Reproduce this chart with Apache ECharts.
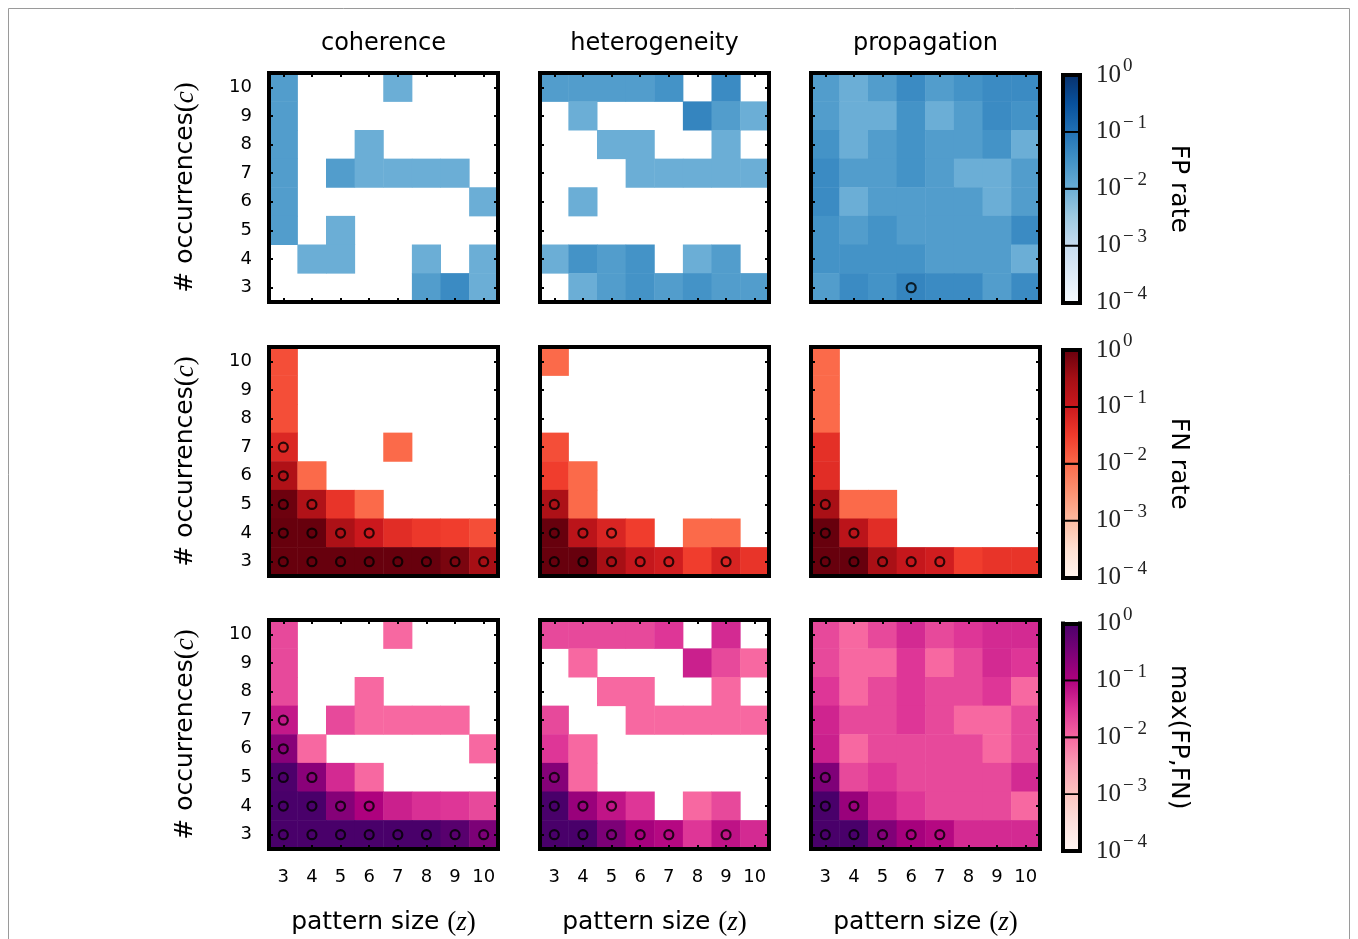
<!DOCTYPE html>
<html><head><meta charset="utf-8">
<script src="https://cdn.jsdelivr.net/npm/echarts@6/dist/echarts.min.js"></script>
<style>html,body{margin:0;padding:0;background:#fff}#c{width:1358px;height:939px}</style>
</head><body><div id="c"></div><script>
// ---------------- data ----------------
const zLabels = ['3','4','5','6','7','8','9','10'];   // pattern size (x)
const cLabels = ['3','4','5','6','7','8','9','10'];   // occurrences (y, bottom -> top)
const colTitles = ['coherence','heterogeneity','propagation'];
const rowNames = ['FP rate','FN rate','max(FP,FN)'];
const cbTickExps = [-4,-3,-2,-1,0];
const decadeStarts = [-4,-3,-2,-1];
const _ = null;
// grids: rows are c = 10 (top) ... 3 (bottom); columns z = 3 ... 10; null = white (zero)
const fpCoherence = [
 [0.02,_,_,_,0.01,_,_,_],
 [0.02,_,_,_,_,_,_,_],
 [0.02,_,_,0.01,_,_,_,_],
 [0.02,_,0.02,0.01,0.01,0.01,0.01,_],
 [0.02,_,_,_,_,_,_,0.01],
 [0.02,_,0.01,_,_,_,_,_],
 [_,0.01,0.01,_,_,0.01,_,0.01],
 [_,_,_,_,_,0.02,0.04,0.01]];
const fpHeterogeneity = [
 [0.02,0.02,0.02,0.02,0.03,_,0.04,_],
 [_,0.01,_,_,_,0.05,0.02,0.01],
 [_,_,0.01,0.01,_,_,0.01,_],
 [_,_,_,0.01,0.01,0.01,0.01,0.01],
 [_,0.01,_,_,_,_,_,_],
 [_,_,_,_,_,_,_,_],
 [0.01,0.03,0.02,0.03,_,0.01,0.02,_],
 [_,0.01,0.02,0.03,0.02,0.03,0.02,0.02]];
const fpPropagation = [
 [0.02,0.01,0.02,0.04,0.02,0.03,0.04,0.04],
 [0.02,0.01,0.01,0.03,0.01,0.02,0.04,0.03],
 [0.03,0.01,0.02,0.03,0.02,0.02,0.03,0.01],
 [0.04,0.02,0.02,0.03,0.02,0.01,0.01,0.02],
 [0.04,0.01,0.02,0.02,0.02,0.02,0.01,0.02],
 [0.03,0.02,0.03,0.02,0.02,0.02,0.02,0.04],
 [0.03,0.03,0.03,0.03,0.02,0.02,0.02,0.01],
 [0.02,0.04,0.03,0.05,0.04,0.04,0.02,0.04]];
const fnCoherence = [
 [0.02,_,_,_,_,_,_,_],
 [0.02,_,_,_,_,_,_,_],
 [0.02,_,_,_,_,_,_,_],
 [0.06,_,_,_,0.01,_,_,_],
 [0.23,0.01,_,_,_,_,_,_],
 [0.9,0.22,0.04,0.01,_,_,_,_],
 [1,1,0.25,0.1,0.05,0.035,0.03,0.02],
 [1,1,1,1,1,1,0.7,0.3]];
const fnHeterogeneity = [
 [0.01,_,_,_,_,_,_,_],
 [_,_,_,_,_,_,_,_],
 [_,_,_,_,_,_,_,_],
 [0.02,_,_,_,_,_,_,_],
 [0.03,0.01,_,_,_,_,_,_],
 [0.25,0.01,_,_,_,_,_,_],
 [1,0.16,0.065,0.03,_,0.01,0.01,_],
 [1,1,0.3,0.12,0.085,0.03,0.068,0.04]];
const fnPropagation = [
 [0.01,_,_,_,_,_,_,_],
 [0.01,_,_,_,_,_,_,_],
 [0.01,_,_,_,_,_,_,_],
 [0.045,_,_,_,_,_,_,_],
 [0.05,_,_,_,_,_,_,_],
 [0.28,0.01,0.01,_,_,_,_,_],
 [1,0.16,0.05,_,_,_,_,_],
 [1,1,0.27,0.12,0.085,0.03,0.04,0.04]];
const maxCoherence = [
 [0.02,_,_,_,0.01,_,_,_],
 [0.02,_,_,_,_,_,_,_],
 [0.02,_,_,0.01,_,_,_,_],
 [0.06,_,0.02,0.01,0.01,0.01,0.01,_],
 [0.23,0.01,_,_,_,_,_,0.01],
 [0.9,0.22,0.04,0.01,_,_,_,_],
 [1,1,0.25,0.1,0.05,0.035,0.03,0.02],
 [1,1,1,1,1,1,0.7,0.3]];
const maxHeterogeneity = [
 [0.02,0.02,0.02,0.02,0.03,_,0.04,_],
 [_,0.01,_,_,_,0.05,0.02,0.01],
 [_,_,0.01,0.01,_,_,0.01,_],
 [0.02,_,_,0.01,0.01,0.01,0.01,0.01],
 [0.03,0.01,_,_,_,_,_,_],
 [0.25,0.01,_,_,_,_,_,_],
 [1,0.16,0.065,0.03,_,0.01,0.02,_],
 [1,1,0.3,0.12,0.085,0.03,0.068,0.04]];
const maxPropagation = [
 [0.02,0.01,0.02,0.04,0.02,0.03,0.04,0.04],
 [0.02,0.01,0.01,0.03,0.01,0.02,0.04,0.03],
 [0.03,0.01,0.02,0.03,0.02,0.02,0.03,0.01],
 [0.045,0.02,0.02,0.03,0.02,0.01,0.01,0.02],
 [0.05,0.01,0.02,0.02,0.02,0.02,0.01,0.02],
 [0.28,0.02,0.03,0.02,0.02,0.02,0.02,0.04],
 [1,0.16,0.05,0.03,0.02,0.02,0.02,0.01],
 [1,1,0.27,0.12,0.085,0.04,0.04,0.04]];
// circle markers as [z, c]
const circFpCoherence = [];
const circFpHeterogeneity = [];
const circFpPropagation = [[6,3]];
const circFnCoherence = [[3,7],[3,6],[3,5],[4,5],[3,4],[4,4],[5,4],[6,4],[3,3],[4,3],[5,3],[6,3],[7,3],[8,3],[9,3],[10,3]];
const circFnHeterogeneity = [[3,5],[3,4],[4,4],[5,4],[3,3],[4,3],[5,3],[6,3],[7,3],[9,3]];
const circFnPropagation = [[3,5],[3,4],[4,4],[3,3],[4,3],[5,3],[6,3],[7,3]];
const circMaxCoherence = circFnCoherence.slice();
const circMaxHeterogeneity = circFnHeterogeneity.slice();
const circMaxPropagation = circFnPropagation.slice();

// ---------------- styling ----------------
const cmaps = [
 ['#f7fbff','#deebf7','#c6dbef','#9ecae1','#6baed6','#4292c6','#2171b5','#08519c','#08306b'],
 ['#fff5f0','#fee0d2','#fcbba1','#fc9272','#fb6a4a','#ef3b2c','#cb181d','#a50f15','#67000d'],
 ['#fff7f3','#fde0dd','#fcc5c0','#fa9fb5','#f768a1','#dd3497','#ae017e','#7a0177','#49006a']];
const panels = [
 [fpCoherence, fpHeterogeneity, fpPropagation],
 [fnCoherence, fnHeterogeneity, fnPropagation],
 [maxCoherence, maxHeterogeneity, maxPropagation]];
const circles = [
 [circFpCoherence, circFpHeterogeneity, circFpPropagation],
 [circFnCoherence, circFnHeterogeneity, circFnPropagation],
 [circMaxCoherence, circMaxHeterogeneity, circMaxPropagation]];

const L = [269, 540, 811], T = [73, 347, 620], S = 229;
const cbL = 1063, cbW = 17, cbT = [75, 350, 623.5], cbH = 227.5;
const SANS = 'DejaVu Sans', SERIF = 'Liberation Serif';
const lineCommon = {show:true, onZero:false, lineStyle:{color:'#000', width:4, cap:'square'}};
const nameRich = {
  s:{fontFamily:SANS, fontSize:25, color:'#000'},
  r:{fontFamily:SERIF, fontSize:27, color:'#000'},
  i:{fontFamily:SERIF, fontStyle:'italic', fontSize:27, color:'#000'}};

const grid = [], xAxis = [], yAxis = [], series = [], title = [];
const vmSeries = [[],[],[]];

function cells(g){
  const out=[]; const n=g.length;
  g.forEach((row,i)=>row.forEach((v,j)=>{ if(v!=null) out.push([j, n-1-i, Math.log10(v)]); }));
  return out;
}

for (let r=0;r<3;r++){
  for (let k=0;k<3;k++){
    const g = r*3+k;
    grid.push({left:L[k], top:T[r], width:S, height:S, containLabel:false});
    const xTick = {show: r!==1, inside:true, length:4, alignWithLabel:true, interval:0, lineStyle:{color:'#000', width:2}};
    const yTick = {show: true, inside:true, length:4, alignWithLabel:true, interval:0, lineStyle:{color:'#000', width:2}};
    const xb = {type:'category', gridIndex:g, data:zLabels, position:'bottom', z:6,
      axisLine:lineCommon, axisTick:xTick, splitLine:{show:false},
      axisLabel:{show:r===2, interval:0, color:'#000', fontSize:18, fontFamily:SANS, margin:19}};
    if (r===2){
      Object.assign(xb, {name:'{s|pattern size }{r|(}{i|z}{r|)}', nameLocation:'middle', nameGap:60,
        nameTextStyle:{rich:nameRich}});
    }
    xAxis.push(xb);
    xAxis.push({type:'category', gridIndex:g, data:zLabels, position:'top', z:6,
      axisLine:lineCommon, axisTick:xTick, axisLabel:{show:false}, splitLine:{show:false}});
    const yl = {type:'category', gridIndex:g, data:cLabels, position:'left', z:6,
      axisLine:lineCommon, axisTick:yTick, splitLine:{show:false},
      axisLabel:{show:k===0, interval:0, color:'#000', fontSize:18, fontFamily:SANS, margin:17}};
    if (k===0){
      Object.assign(yl, {name:'{s|# occurrences}{r|(}{i|c}{r|)}', nameLocation:'middle', nameGap:70, nameRotate:90,
        nameTextStyle:{rich:nameRich}});
    }
    yAxis.push(yl);
    yAxis.push({type:'category', gridIndex:g, data:cLabels, position:'right', z:6,
      axisLine:lineCommon, axisTick:yTick, axisLabel:{show:false}, splitLine:{show:false}});

    vmSeries[r].push(series.length);
    series.push({type:'heatmap', xAxisIndex:2*g, yAxisIndex:2*g, data:cells(panels[r][k]),
      itemStyle:{borderWidth:0}, emphasis:{disabled:true}, z:2});
    series.push({type:'scatter', xAxisIndex:2*g, yAxisIndex:2*g, z:4,
      data:circles[r][k].map(p=>[String(p[0]), String(p[1])]),
      symbol:'circle', symbolSize:9, silent:true,
      itemStyle:{color:'rgba(0,0,0,0)', borderColor:'#000', borderWidth:2.2}});
  }
}
// column titles
for (let k=0;k<3;k++){
  title.push({text:colTitles[k], left:L[k]+S/2, top:32, textAlign:'center', padding:0,
    textStyle:{fontFamily:SANS, fontSize:24, fontWeight:'normal', color:'#000'}});
}
// colorbars
for (let r=0;r<3;r++){
  const g = 9+r;
  grid.push({left:cbL, top:cbT[r], width:cbW, height:cbH});
  xAxis.push({type:'value', gridIndex:g, min:0, max:1, position:'bottom', z:6, axisLine:lineCommon,
    axisTick:{show:false}, axisLabel:{show:false}, splitLine:{show:false}});
  xAxis.push({type:'value', gridIndex:g, min:0, max:1, position:'top', z:6, axisLine:lineCommon,
    axisTick:{show:false}, axisLabel:{show:false}, splitLine:{show:false}});
  yAxis.push({type:'value', gridIndex:g, min:-4, max:0, interval:1, position:'left', z:6, axisLine:lineCommon,
    axisTick:{show:false}, axisLabel:{show:false}, splitLine:{show:false}});
  yAxis.push({type:'value', gridIndex:g, min:-4, max:0, interval:1, position:'right', z:6, axisLine:lineCommon,
    axisTick:{show:false}, splitLine:{show:false},
    axisLabel:{show:true, margin:16, showMinLabel:true, showMaxLabel:true,
      formatter: v => '{b|10}{s|' + (v===0 ? '0' : '\u2212\u2009' + (-v)) + '}',
      rich:{ b:{fontFamily:SERIF, fontSize:25, color:'#222'},
             s:{fontFamily:SERIF, fontSize:19, color:'#222', padding:[0,0,17,2]} }},
    name: rowNames[r], nameLocation:'middle', nameRotate:-90, nameGap:86,
    nameTextStyle:{fontFamily:SANS, fontSize:25, color:'#000'}});
  const cm = cmaps[r];
  series.push({type:'custom', xAxisIndex:2*g, yAxisIndex:2*g, z:2, silent:true,
    data: decadeStarts.map(v=>[0, v]), encode:{x:0, y:1},
    renderItem:(params, api)=>{
      const v = api.value(1);
      const p0 = api.coord([0, v]);
      const p1 = api.coord([1, v+1]);
      const i0 = (v+4)*2;
      const fill = new echarts.graphic.LinearGradient(0,1,0,0,[
        {offset:0, color:cm[i0]},{offset:0.5, color:cm[i0+1]},{offset:1, color:cm[i0+2]}]);
      return {type:'rect', shape:{x:p0[0], y:p1[1], width:p1[0]-p0[0], height:p0[1]-p1[1]},
        style:{fill:fill, stroke:'#000', lineWidth:1.8}};
    }});
}

const chart = echarts.init(document.getElementById('c'), null, {renderer:'canvas'});
chart.setOption({
  backgroundColor:'#fff', animation:false,
  title, grid, xAxis, yAxis, series,
  visualMap: [0,1,2].map(r=>({type:'continuous', show:false, min:-4, max:0, dimension:2,
    seriesIndex: vmSeries[r], inRange:{color:cmaps[r]}})),
  graphic:[{type:'rect', silent:true, z:-1, shape:{x:8.5, y:8.5, width:1341, height:960},
    style:{fill:'none', stroke:'#9a9a9a', lineWidth:1}}]
});
</script></body></html>
